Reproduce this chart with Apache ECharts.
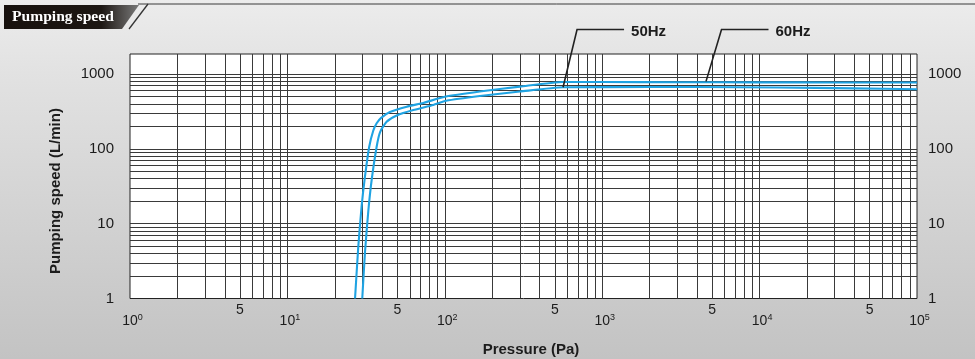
<!DOCTYPE html>
<html><head><meta charset="utf-8">
<script src="https://cdn.jsdelivr.net/npm/echarts@6/dist/echarts.min.js"></script>
<style>html,body{margin:0;padding:0;background:#d8d8d8}#c{width:975px;height:359px}</style>
</head><body><div id="c"></div>
<script>
// ---- data ----
const pressure60 = [26.9, 28.2, 29.6, 31.1, 33.1, 35.1, 36.9, 39.4, 44.8, 57.3, 73, 100, 167, 300, 564, 1000, 3000, 10000, 30000, 100000];
const speed60    = [1, 4.9, 16.9, 42.5, 107, 175, 220, 260, 311, 367, 412, 497, 585, 681, 786, 784, 779, 776, 774, 772];
const pressure50 = [29.9, 31.1, 32.7, 34.3, 36.9, 38.8, 42.7, 49.5, 63.1, 84.5, 102, 167, 300, 564, 1000, 4000, 13000, 40000, 100000];
const speed50    = [1, 4.1, 15.2, 38.4, 107, 168, 231, 280, 331, 386, 440, 510, 584, 666, 670, 672, 662, 645, 628];
const xDecadeTicks = [1, 10, 100, 1000, 10000, 100000];
const xFiveTicks = [5, 50, 500, 5000, 50000];
const yTicks = [1, 10, 100, 1000];
const minorMultipliers = [2, 3, 4, 5, 6, 7, 8, 9];
const xDecades = [1, 10, 100, 1000, 10000];
const yDecades = [1, 10, 100];
const seriesNames = ['50Hz', '60Hz'];

const FONT = 'Liberation Sans, Arial, sans-serif';
const TXT = '#1c1c1c';

const xGrid = [], yGrid = [];
xDecades.forEach(d => minorMultipliers.forEach(m => xGrid.push({xAxis: d * m})));
xDecadeTicks.slice(1, -1).forEach(v => xGrid.push({xAxis: v}));
yDecades.forEach(d => minorMultipliers.forEach(m => yGrid.push({yAxis: d * m})));
yTicks.slice(1).forEach(v => yGrid.push({yAxis: v}));

const zip = (xs, ys) => xs.map((x, i) => [x, ys[i]]);

const chart = echarts.init(document.getElementById('c'), null, {renderer: 'canvas'});

const xBase = {
  type: 'log', logBase: 10, min: 1, max: 100000, gridIndex: 0, position: 'bottom',
  splitLine: {show: false}, axisTick: {show: false}, minorTick: {show: false}
};
const yBase = {
  type: 'log', logBase: 10, min: 1, max: 1857,
  splitLine: {show: false}, axisTick: {show: false}, axisLine: {show: false},
  axisLabel: {customValues: yTicks, fontSize: 15, color: TXT, fontFamily: FONT, formatter: v => String(Math.round(v))}
};

const option = {
  animation: false,
  backgroundColor: {
    type: 'linear', x: 0, y: 0, x2: 0, y2: 1,
    colorStops: [{offset: 0, color: '#ececec'}, {offset: 0.2, color: '#e2e2e2'}, {offset: 1, color: '#c3c3c3'}]
  },
  grid: {left: 130, right: 58, top: 54, bottom: 60.5, show: true, backgroundColor: '#ffffff', borderColor: '#222', borderWidth: 1},
  xAxis: [
    Object.assign({}, xBase, {
      axisLine: {show: false},
      axisLabel: {
        customValues: xDecadeTicks, margin: 14.5, color: TXT, fontFamily: FONT,
        formatter: v => '{b|10}{s|' + Math.round(Math.log10(v)) + '}',
        rich: {
          b: {fontSize: 14, lineHeight: 16, color: TXT, fontFamily: FONT, padding: [0, 0, 0, 5], verticalAlign: 'middle'},
          s: {fontSize: 9, lineHeight: 10, color: TXT, fontFamily: FONT, verticalAlign: 'top'}
        }
      }
    }),
    Object.assign({}, xBase, {
      axisLine: {show: false},
      axisLabel: {customValues: xFiveTicks, margin: 4, fontSize: 14, lineHeight: 16, color: TXT, fontFamily: FONT, formatter: () => '5'}
    })
  ],
  yAxis: [
    Object.assign({}, yBase, {position: 'left', axisLabel: Object.assign({}, yBase.axisLabel, {margin: 16})}),
    Object.assign({}, yBase, {position: 'right', axisLabel: Object.assign({}, yBase.axisLabel, {margin: 11})})
  ],
  series: [
    {
      type: 'line', data: [[1, 1]], symbol: 'none', lineStyle: {width: 0}, silent: true, z: 1,
      markLine: {
        z: 1, silent: true, symbol: 'none', animation: false,
        label: {show: false},
        lineStyle: {color: '#3a3a3a', width: 1, type: 'solid'},
        emphasis: {disabled: true},
        data: xGrid.concat(yGrid)
      }
    },
    {
      name: seriesNames[0], type: 'line', data: zip(pressure50, speed50), symbol: 'none', smooth: 0.2, z: 6,
      lineStyle: {color: '#1fa3e2', width: 2.1}
    },
    {
      name: seriesNames[1], type: 'line', data: zip(pressure60, speed60), symbol: 'none', smooth: 0.2, z: 6,
      lineStyle: {color: '#1fa3e2', width: 2.1}
    }
  ],
  graphic: [
    {id: 'topline', type: 'line', shape: {x1: 138, y1: 4, x2: 975, y2: 4}, style: {stroke: '#3a3a3a', lineWidth: 1}},
    {id: 'hdrbox', type: 'polygon', shape: {points: [[4, 5], [139, 5], [122, 29], [4, 29]]},
      style: {fill: {type: 'linear', x: 0, y: 0, x2: 1, y2: 0,
        colorStops: [{offset: 0, color: '#17110d'}, {offset: 0.72, color: '#1d1713'}, {offset: 1, color: '#7a7a7a'}]}}},
    {id: 'slash', type: 'line', shape: {x1: 148, y1: 4, x2: 129, y2: 29}, style: {stroke: '#333', lineWidth: 1.3}},
    {id: 'hdrtext', type: 'text', x: 12, y: 17, style: {text: 'Pumping speed', fill: '#ffffff', font: 'bold 15.6px "Liberation Serif", "Times New Roman", serif', verticalAlign: 'middle'}},
    {id: 'ytitle', type: 'text', x: 56, y: 191, rotation: Math.PI / 2,
      style: {text: 'Pumping speed (L/min)', fill: TXT, font: 'bold 15px ' + FONT, align: 'center', verticalAlign: 'middle'}},
    {id: 'xtitle', type: 'text', x: 531, y: 350,
      style: {text: 'Pressure (Pa)', fill: TXT, font: 'bold 15px ' + FONT, align: 'center', verticalAlign: 'middle'}}
  ]
};
chart.setOption(option);

// Annotation pointers anchored to curve values
function pointer(id, p, s, dx, label) {
  const tip = chart.convertToPixel({xAxisIndex: 0, yAxisIndex: 0}, [p, s]);
  const elbow = [tip[0] + dx, 29.5];
  const end = [elbow[0] + 47, 29.5];
  return [
    {id: id + 'l', type: 'polyline', shape: {points: [tip, elbow, end]}, style: {stroke: '#222', lineWidth: 1.6, fill: null}, z: 10},
    {id: id + 't', type: 'text', x: end[0] + 7, y: 31.5, style: {text: label, fill: TXT, font: 'bold 15px ' + FONT, verticalAlign: 'middle'}, z: 10}
  ];
}
chart.setOption({graphic: [].concat(
  pointer('p50', 564, 666, 14, seriesNames[0]),
  pointer('p60', 4566, 800, 15.5, seriesNames[1])
)});
</script>
</body></html>
